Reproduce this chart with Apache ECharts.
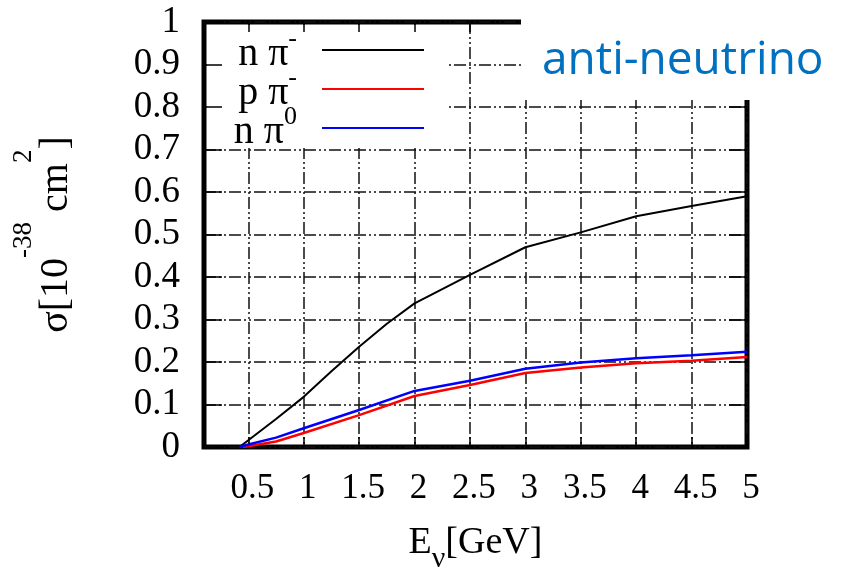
<!DOCTYPE html>
<html><head><meta charset="utf-8">
<script src="https://cdn.jsdelivr.net/npm/echarts@6/dist/echarts.min.js"></script>
<style>html,body{margin:0;padding:0;background:#fff}#c{width:844px;height:569px}</style>
</head><body><div id="c"></div>
<script>
// ---- data ----
const seriesNames = ['n π⁻', 'p π⁻', 'n π⁰'];
const energyBlack = [0.42, 0.5, 0.75, 1, 1.25, 1.5, 1.75, 2, 2.5, 3, 3.5, 4, 4.5, 5];
const sigmaBlack  = [0, 0.016, 0.066, 0.118, 0.178, 0.236, 0.29, 0.338, 0.405, 0.47, 0.505, 0.543, 0.567, 0.59];
const energyRed   = [0.45, 0.5, 0.75, 1, 1.5, 2, 2.5, 3, 3.5, 4, 4.5, 5];
const sigmaRed    = [0, 0.002, 0.013, 0.033, 0.075, 0.12, 0.146, 0.174, 0.187, 0.197, 0.203, 0.212];
const energyBlue  = [0.42, 0.5, 0.75, 1, 1.5, 2, 2.5, 3, 3.5, 4, 4.5, 5];
const sigmaBlue   = [0, 0.006, 0.022, 0.044, 0.087, 0.132, 0.156, 0.184, 0.199, 0.209, 0.216, 0.224];
const xTicks = [0.5, 1, 1.5, 2, 2.5, 3, 3.5, 4, 4.5, 5];
const yTicks = [0, 0.1, 0.2, 0.3, 0.4, 0.5, 0.6, 0.7, 0.8, 0.9, 1];
const legendRich = {'n π⁻': '{m|n π}{s|-}', 'p π⁻': '{m|p π}{s|-}', 'n π⁰': '{m|n π}{s|0}'};

const pairs = (xs, ys) => xs.map((x, i) => [x, ys[i]]);
const SERIF = '"Liberation Serif", "Times New Roman", serif';
const gridLine = {show: true, lineStyle: {type: [12, 3, 2, 3, 2, 3], width: 1.5, color: '#111'}};
const noAxis = {axisLine: {show: false, onZero: false}, axisLabel: {show: false}, splitLine: {show: false}};

const chart = echarts.init(document.getElementById('c'), null, {renderer: 'canvas'});
chart.setOption({
  animation: false,
  backgroundColor: '#fff',
  grid: {left: 204, top: 22, width: 543, height: 425, show: true, borderColor: '#000', borderWidth: 5,
         backgroundColor: 'transparent', containLabel: false, outerBoundsMode: 'none'},
  xAxis: [
    {type: 'value', position: 'bottom', min: 0.1, max: 5, z: 0,
     axisLine: {show: false, onZero: false},
     axisTick: {show: true, inside: true, length: 10, customValues: xTicks, lineStyle: {color: '#000', width: 1.5}},
     axisLabel: {customValues: xTicks, margin: 24, padding: [0, 0, 0, 8], fontFamily: SERIF, fontSize: 35, color: '#000'},
     splitLine: gridLine,
     name: '{m|E}{sub|ν}{m|[GeV]}', nameLocation: 'middle', nameGap: 77, nameMoveOverlap: false,
     nameTextStyle: {rich: {
       m: {fontFamily: SERIF, fontSize: 38, lineHeight: 38, verticalAlign: 'top', color: '#000'},
       sub: {fontFamily: SERIF, fontSize: 30, lineHeight: 50, verticalAlign: 'bottom', color: '#000'}}}},
    Object.assign({type: 'value', position: 'top', min: 0.1, max: 5, z: 10,
     axisTick: {show: true, inside: true, length: 10, customValues: xTicks, lineStyle: {color: '#000', width: 1.5}}}, noAxis)
  ],
  yAxis: [
    {type: 'value', position: 'left', min: 0, max: 1, z: 0,
     axisLine: {show: false, onZero: false},
     axisTick: {show: false, customValues: yTicks},
     axisLabel: {customValues: yTicks, margin: 24, fontFamily: SERIF, fontSize: 37, color: '#000'},
     splitLine: gridLine,
     name: '{m|σ[10}{s|-38}{m| cm}{s|2}{m|]}', nameLocation: 'middle', nameRotate: 90, nameGap: 128, nameMoveOverlap: false,
     nameTextStyle: {rich: {
       m: {fontFamily: SERIF, fontSize: 40, lineHeight: 40, verticalAlign: 'bottom', color: '#000'},
       s: {fontFamily: SERIF, fontSize: 27, lineHeight: 66, verticalAlign: 'top', color: '#000'}}}},
    Object.assign({type: 'value', position: 'left', min: 0, max: 1, z: 10,
     axisTick: {show: true, inside: true, length: 18, customValues: yTicks, lineStyle: {color: '#000', width: 1.5}}}, noAxis),
    Object.assign({type: 'value', position: 'right', min: 0, max: 1, z: 10,
     axisTick: {show: true, inside: true, length: 18, customValues: yTicks, lineStyle: {color: '#000', width: 1.5}}}, noAxis)
  ],
  legend: {
    data: seriesNames, orient: 'vertical', align: 'right', right: 420, top: 26, padding: 0,
    icon: 'rect', itemWidth: 102, itemHeight: 2, itemGap: -9, z: 4, selectedMode: false,
    formatter: name => legendRich[name],
    textStyle: {padding: [0, 20, 0, 0], rich: {
      m: {fontFamily: SERIF, fontSize: 40, lineHeight: 40, verticalAlign: 'bottom', color: '#000'},
      s: {fontFamily: SERIF, fontSize: 26, lineHeight: 48, verticalAlign: 'top', color: '#000'}}}
  },
  graphic: [
    {type: 'rect', z: 3, shape: {x: 207, y: 25, width: 239, height: 123}, style: {fill: '#fff'}},
    {type: 'rect', z: 100, shape: {x: 521, y: 0, width: 323, height: 100}, style: {fill: '#fff'}},
    {type: 'text', z: 101, x: 542, y: 61, style: {text: 'anti-neutrino', fill: '#0070C0', font: '46px "Open Sans"', verticalAlign: 'middle', align: 'left'}}
  ],
  series: [
    {name: seriesNames[0], type: 'line', xAxisIndex: 0, yAxisIndex: 0, symbol: 'none', z: 2,
     lineStyle: {color: '#000', width: 2}, itemStyle: {color: '#000'}, data: pairs(energyBlack, sigmaBlack)},
    {name: seriesNames[1], type: 'line', xAxisIndex: 0, yAxisIndex: 0, symbol: 'none', z: 2,
     lineStyle: {color: '#ff0000', width: 2.5}, itemStyle: {color: '#ff0000'}, data: pairs(energyRed, sigmaRed)},
    {name: seriesNames[2], type: 'line', xAxisIndex: 0, yAxisIndex: 0, symbol: 'none', z: 2,
     lineStyle: {color: '#0000ff', width: 2.5}, itemStyle: {color: '#0000ff'}, data: pairs(energyBlue, sigmaBlue)}
  ]
});
</script></body></html>
